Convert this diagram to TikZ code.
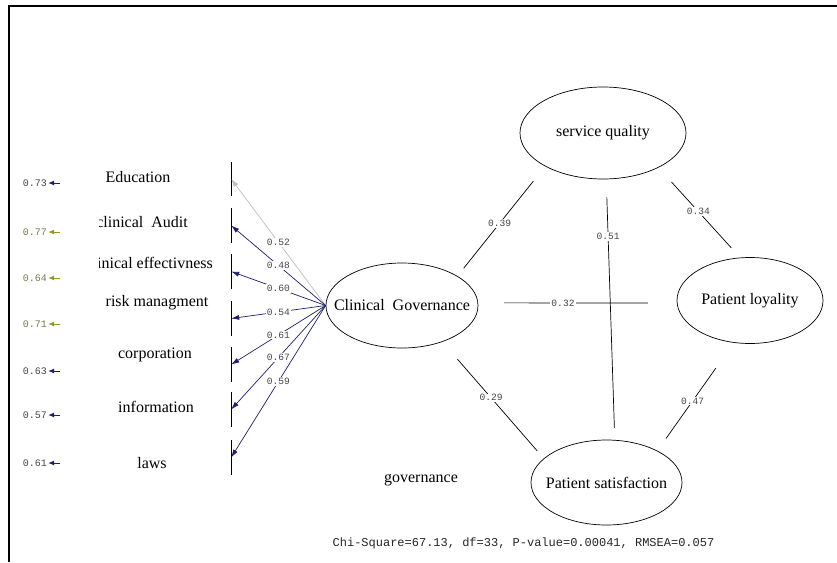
\documentclass[tikz,border=0pt]{standalone}
\usepackage{fontspec}
\setmainfont{Liberation Serif}
\newfontfamily\monofont{Liberation Mono}
\usetikzlibrary{shapes.geometric,arrows.meta}
\definecolor{navyc}{RGB}{30,30,105}
\definecolor{olivec}{RGB}{150,150,45}
\definecolor{edugray}{RGB}{190,190,190}
\definecolor{numgray}{RGB}{70,70,70}
\definecolor{olivetext}{RGB}{120,120,80}
\begin{document}
\begin{tikzpicture}[x=1pt,y=-1pt,
  lat/.style={ellipse,draw,line width=0.7pt,inner sep=0pt,font=\fontsize{16}{18}\selectfont},
  ind/.style={rectangle,draw=none,minimum width=137pt,minimum height=34pt,inner sep=0pt},
  itext/.style={font=\fontsize{16}{18}\selectfont,inner sep=0pt},
  errlab/.style={font=\monofont\fontsize{10}{11}\selectfont,text=numgray,inner sep=1pt},
  coef/.style={font=\monofont\fontsize{9.6}{10}\selectfont,text=numgray,fill=white,inner sep=1pt},
  load/.style={draw=navyc,line width=0.7pt,-{Latex[length=8pt,width=5pt]}},
  spath/.style={draw=black,line width=0.7pt},
  erra/.style={line width=0.9pt,-{Latex[length=6pt,width=5pt]}},
  edge/.style={draw=black,line width=0.8pt}]
\useasboundingbox (0,0) rectangle (837,562);
\fill[white] (0,0) rectangle (837,562);
% frame
\draw[line width=2pt] (9,562) -- (9,6) -- (837,6);

% indicator boxes (only right edges visible)
\node[ind] (i1) at (162.5,179) {};
\node[ind] (i2) at (162.5,225.5) {};
\node[ind] (i3) at (162.5,271.5) {};
\node[ind] (i4) at (162.5,318.5) {};
\node[ind] (i5) at (162.5,364.5) {};
\node[ind] (i6) at (162.5,409.5) {};
\node[ind] (i7) at (162.5,457.5) {};
\foreach \n in {i1,i2,i3,i4,i5,i6,i7}{\draw[edge] (\n.north east) -- (\n.south east);}

% indicator texts
\begin{scope}
\clip (99,150) rectangle (231,480);
\node[itext] (t1) at (138,177) {Education};
\node[itext,anchor=east] (t2) at (188,222) {clinical\ \ Audit};
\node[itext,anchor=east] (t3) at (213,263) {clinical effectivness};
\node[itext] (t4) at (157,303) {risk managment};
\node[itext] (t5) at (155,355) {corporation};
\node[itext] (t6) at (156,407) {information};
\node[itext] (t7) at (152,463) {laws};
\end{scope}

% error terms
\node[errlab] (e1) at (35,183) {0.73};
\node[errlab,text=olivetext] (e2) at (35,232) {0.77};
\node[errlab,text=olivetext] (e3) at (35,278) {0.64};
\node[errlab,text=olivetext] (e4) at (35,324) {0.71};
\node[errlab] (e5) at (35,371) {0.63};
\node[errlab] (e6) at (35,415) {0.57};
\node[errlab] (e7) at (35,463) {0.61};
\coordinate (s1) at (60,183);
\coordinate (s2) at (60,232);
\coordinate (s3) at (60,278);
\coordinate (s4) at (60,324);
\coordinate (s5) at (60,371);
\coordinate (s6) at (60,415);
\coordinate (s7) at (60,463);
\draw[erra,navyc] (s1) -- (e1.east);
\draw[erra,olivec] (s2) -- (e2.east);
\draw[erra,olivec] (s3) -- (e3.east);
\draw[erra,olivec] (s4) -- (e4.east);
\draw[erra,navyc] (s5) -- (e5.east);
\draw[erra,navyc] (s6) -- (e6.east);
\draw[erra,navyc] (s7) -- (e7.east);

% latent variables
\node[lat,minimum width=152pt,minimum height=85pt] (cg) at (402,305.5) {\makebox[0pt]{Clinical\ \ Governance}};
\node[lat,minimum width=166pt,minimum height=92pt] (sq) at (603,133) {\makebox[0pt]{service quality}};
\node[lat,minimum width=146pt,minimum height=86pt] (pl) at (750,300.5) {\makebox[0pt]{Patient loyality}};
\node[lat,minimum width=151pt,minimum height=85pt] (ps) at (606.5,482.5) {\makebox[0pt]{Patient satisfaction}};

% loadings
\draw[load,draw=edugray] (cg.west) -- node[coef]{0.52} (i1.east);
\draw[load] (cg.west) -- node[coef]{0.48} (i2.east);
\draw[load] (cg.west) -- node[coef]{0.60} (i3.east);
\draw[load] (cg.west) -- node[coef]{0.54} (i4.east);
\draw[load] (cg.west) -- node[coef]{0.61} (i5.east);
\draw[load] (cg.west) -- node[coef]{0.67} (i6.east);
\draw[load] (cg.west) -- node[coef]{0.59} (i7.east);

% structural paths
\draw[spath,shorten <=10pt,shorten >=19pt] (cg.28) -- node[coef,pos=0.48]{0.39} (sq.210);
\draw[spath,shorten <=19.6pt,shorten >=13pt] (sq.-32) -- node[coef,pos=0.49]{0.34} (pl.103);
\draw[spath,shorten <=26pt,shorten >=29pt] (cg.2) -- node[coef,pos=0.427]{0.32} (pl.182);
\draw[spath,shorten <=18pt,shorten >=12pt] (sq.-86) -- node[coef,pos=0.22]{0.51} (ps.79);
\draw[spath,shorten <=23pt,shorten >=10pt] (cg.-42) -- node[coef,pos=0.48]{0.29} (ps.159);
\draw[spath,shorten <=31pt,shorten >=15pt] (pl.249) -- node[coef,pos=0.54]{0.47} (ps.32);

% other texts
\node[itext] (gov) at (421,480) {governance};
\node[font=\monofont\fontsize{12}{13}\selectfont,text=black!85] (fit) at (523.5,543) {Chi-Square=67.13, df=33, P-value=0.00041, RMSEA=0.057};
\end{tikzpicture}
\end{document}
